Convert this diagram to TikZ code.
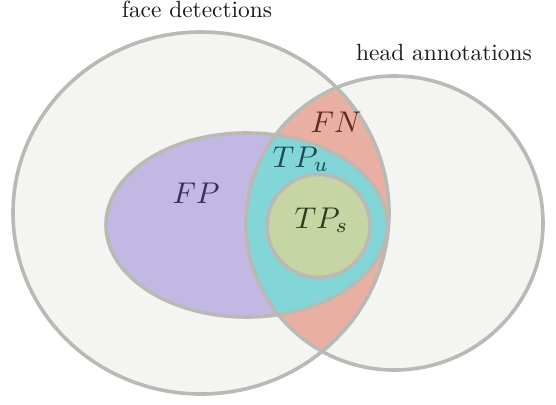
\documentclass[tikz,border=0pt]{standalone}
\begin{document}
\begin{tikzpicture}[x=1pt,y=-1pt,
  edge/.style={draw=bordergray,line width=3.6pt},
  title/.style={scale=2.34,inner sep=0pt,anchor=base,text=black!90},
  lbl/.style={scale=3.0,inner sep=0pt,anchor=base west}]
\definecolor{bordergray}{RGB}{185,186,180}
\definecolor{bgfill}{RGB}{244,244,242}
\definecolor{fpfill}{RGB}{195,184,227}
\definecolor{tpufill}{RGB}{130,214,215}
\definecolor{fnfill}{RGB}{233,175,162}
\definecolor{tpsfill}{RGB}{198,213,163}
\definecolor{fptext}{RGB}{62,43,88}
\definecolor{fntext}{RGB}{92,43,37}
\definecolor{tputext}{RGB}{29,75,82}
\definecolor{tpstext}{RGB}{47,59,31}
\useasboundingbox (0,0) rectangle (556,404);
% coordinates
\coordinate (face) at (201,213);
\coordinate (head) at (394.5,223);
\coordinate (det) at (246.5,225);
\coordinate (tps) at (318.5,226);
% backgrounds
\fill[bgfill] (face) ellipse [x radius=188, y radius=181];
\fill[bgfill] (head) ellipse [x radius=148.5, y radius=147];
% FN region: head inside face
\begin{scope}
  \clip (face) ellipse [x radius=188, y radius=181];
  \fill[fnfill] (head) ellipse [x radius=148.5, y radius=147];
\end{scope}
% FP region
\fill[fpfill] (det) ellipse [x radius=140.5, y radius=92];
% TP_u region
\begin{scope}
  \clip (head) ellipse [x radius=148.5, y radius=147];
  \fill[tpufill] (det) ellipse [x radius=140.5, y radius=92];
\end{scope}
% TP_s
\fill[tpsfill] (tps) circle [radius=51.5];
% outlines
\draw[edge] (face) ellipse [x radius=188, y radius=181];
\draw[edge] (head) ellipse [x radius=148.5, y radius=147];
\draw[edge] (det) ellipse [x radius=140.5, y radius=92];
\draw[edge] (tps) circle [radius=51.5];
% texts
\node[title] (tface) at (197,18) {face detections};
\node[title] (thead) at (444,60) {head annotations};
\node[lbl,text=fptext] (lfp) at (172,203) {$FP$};
\node[lbl,text=fntext] (lfn) at (310,132) {$FN$};
\node[lbl,text=tputext] (ltpu) at (272,167) {$TP_u$};
\node[lbl,text=tpstext] (ltps) at (294,228) {$TP_s$};
\end{tikzpicture}
\end{document}
